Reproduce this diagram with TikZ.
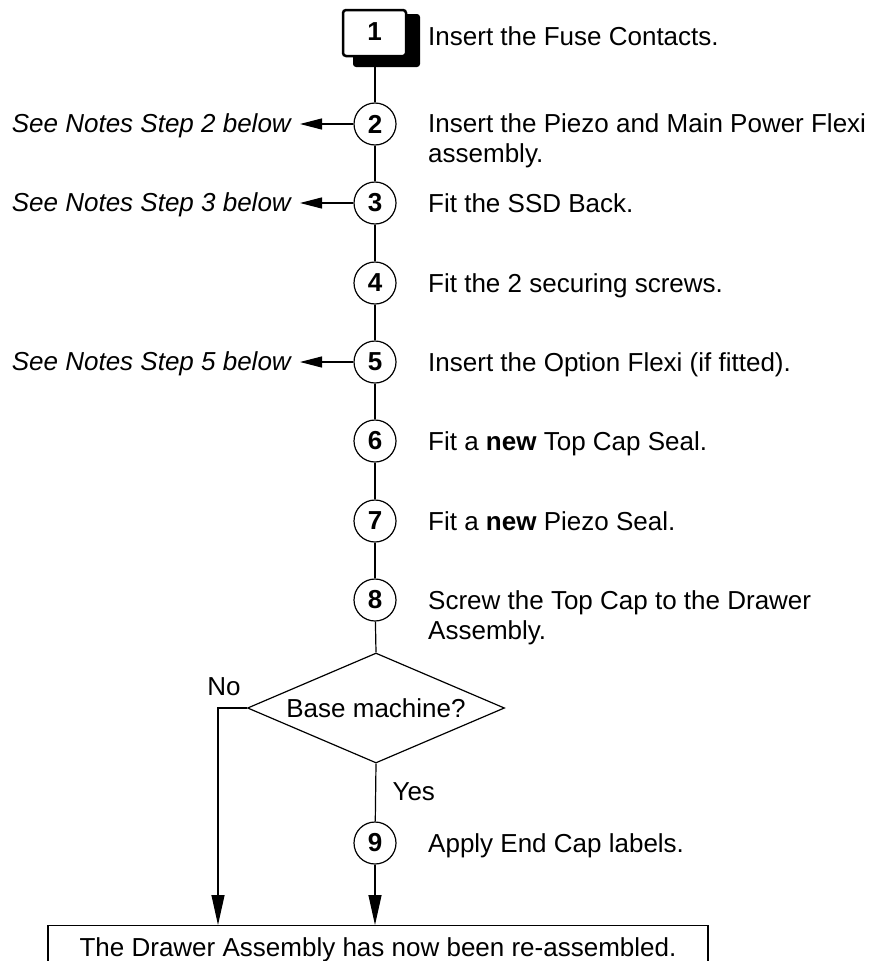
\documentclass[tikz,border=0pt]{standalone}
\usepackage{fontspec}
\setmainfont{Liberation Sans}
\usetikzlibrary{shapes.geometric,arrows.meta}
\tikzset{stepnum/.style={circle,draw,line width=1.2pt,minimum size=42pt,inner sep=0pt,font=\fontsize{26}{30}\bfseries},
  stepnote/.style={anchor=base west,inner sep=0pt},
  steplong/.style={anchor=north west,inner sep=0pt,align=left},
  seenote/.style={anchor=base east,inner sep=0pt,font=\fontsize{26}{30}\itshape},
  flow/.style={line width=1.2pt},
  tip/.style={-{Triangle[length=22pt,width=11pt]}},
  longtip/.style={-{Triangle[length=30pt,width=13pt]}}}
\begin{document}
\begin{tikzpicture}[x=1pt,y=-1pt,font=\fontsize{26}{30}\selectfont]
  \useasboundingbox (0,0) rectangle (875,961);
  % step 1 box with its shadow
  \fill[rounded corners=3pt] (353,14) rectangle (420,67);
  \draw[line width=2.5pt,fill=white,rounded corners=3pt] (343,10) rectangle (406,56);
  \node[font=\fontsize{26}{30}\bfseries] (s1) at (374.5,32) {1}; \coordinate (s1b) at (375,67);
  % numbered steps
  \foreach \n/\y in {2/124,3/203,4/283,5/362,6/441,7/521,8/600,9/843} \node[stepnum] (c\n) at (375,\y) {\n};
  \node[stepnote] (t1) at (428,45) {Insert the Fuse Contacts.};
  \node[steplong] (t2) at (428,113) {Insert the Piezo and Main Power Flexi\\assembly.};
  \node[stepnote] (t3) at (428,212) {Fit the SSD Back.}; \node[stepnote] (t4) at (428,292) {Fit the 2 securing screws.};
  \node[stepnote] (t5) at (428,371) {Insert the Option Flexi (if fitted).};
  \node[stepnote] (t6) at (428,450) {Fit a \textbf{new} Top Cap Seal.}; \node[stepnote] (t7) at (428,530) {Fit a \textbf{new} Piezo Seal.};
  \node[steplong] (t8) at (428,590) {Screw the Top Cap to the Drawer\\Assembly.};
  \node[stepnote] (t9) at (428,852) {Apply End Cap labels.};
  % notes on the left
  \foreach \n in {2,3,5} {\node[seenote] (n\n) at (291,0 |- c\n) [yshift=-8pt] {See Notes Step \n\ below};
    \draw[flow,tip] (c\n.west) -- ([xshift=9pt]c\n.west -| n\n.east);}
  % decision and end box
  \node[draw,flow,diamond,aspect=2.3,minimum width=257pt,minimum height=110pt,inner sep=0pt] (q) at (376,708) {Base machine?};
  \node[draw,flow,anchor=north,text height=19pt,text depth=5.5pt,inner ysep=12pt,minimum width=660pt] (done) at (378,925) {The Drawer Assembly has now been re-assembled.};
  \node (no) at (224,687) {No}; \node[anchor=west] (yes) at (389,792) {Yes};
  \coordinate (nobend) at (218,708);
  % connectors
  \draw[flow] (s1b) -- (c2); \foreach \a/\b in {2/3,3/4,4/5,5/6,6/7,7/8} \draw[flow] (c\a) -- (c\b);
  \draw[flow] (c8) -- (q.north); \draw[flow] (q.south) -- (c9);
  \draw[flow,longtip] (q.west) -- (nobend) -- (nobend |- done.north);
  \draw[flow,longtip] (c9) -- (c9 |- done.north);
\end{tikzpicture}
\end{document}
